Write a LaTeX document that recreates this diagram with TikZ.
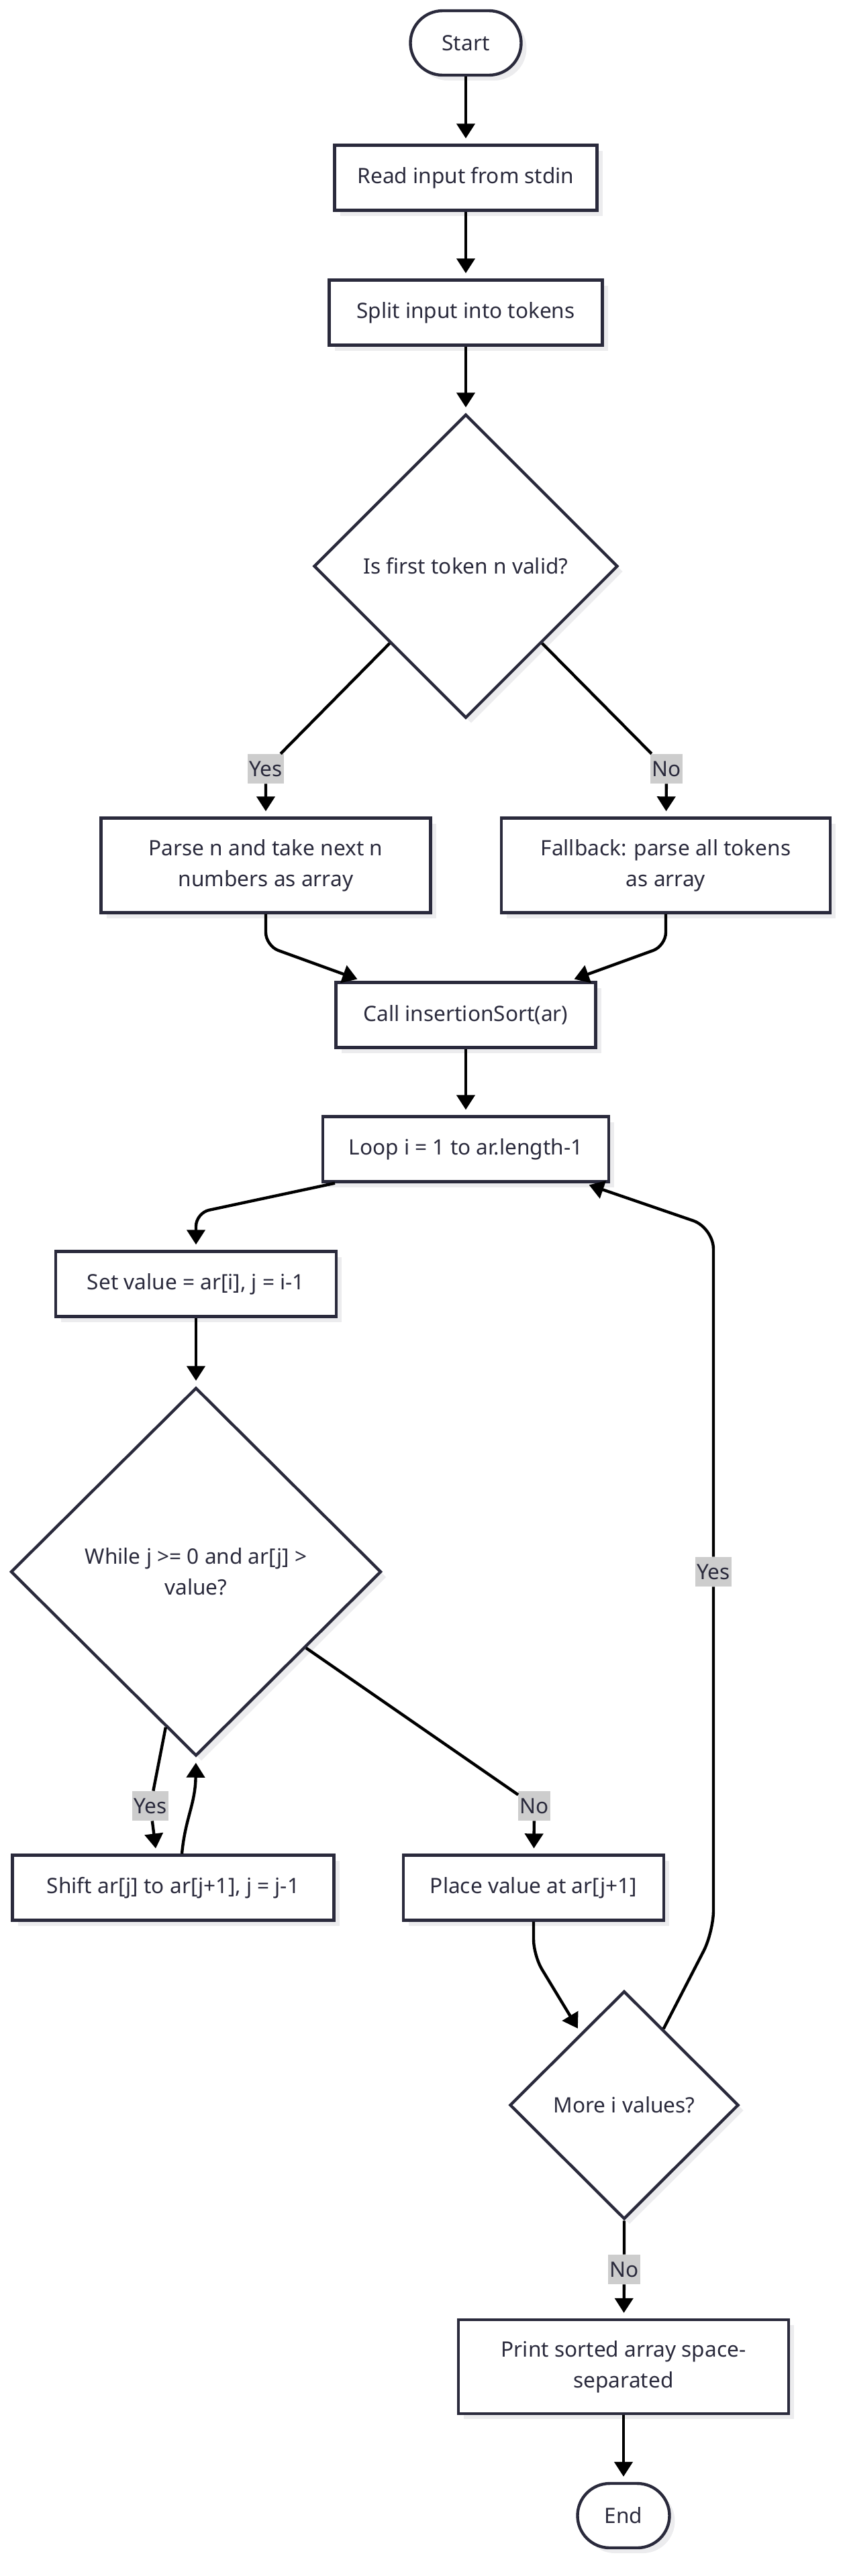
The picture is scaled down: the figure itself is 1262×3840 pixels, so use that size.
\documentclass[tikz,border=0pt]{standalone}
\usepackage{fontspec}
\setmainfont{Noto Sans}
\usepackage{tikz}
\usepackage{xcolor}
\usetikzlibrary{shapes.geometric,arrows.meta,shadows}

\definecolor{nodeline}{RGB}{42,42,60}
\definecolor{labelgray}{RGB}{205,205,205}
\definecolor{shadowgray}{RGB}{236,236,238}

\begin{document}
\begin{tikzpicture}[x=0.5pt, y=-0.5pt,
  base/.style={draw=nodeline, line width=2.2pt, fill=white, text=nodeline,
    font=\fontsize{15.8}{23}\selectfont, align=center, inner sep=0pt,
    drop shadow={shadow xshift=4pt, shadow yshift=-4pt, fill=shadowgray, opacity=1}},
  terminal/.style={base, rectangle, rounded corners=24pt, minimum height=48pt},
  process/.style={base, rectangle, minimum height=48.5pt},
  decision/.style={base, diamond, aspect=1},
  flow/.style={draw=black, line width=2.2pt, -{Triangle[length=11pt, width=13.5pt]}, shorten >=4pt},
  lbl/.style={fill=labelgray, text=nodeline, font=\fontsize{15.8}{18}\selectfont,
    inner xsep=1pt, inner ysep=0pt, minimum height=22pt}]
\useasboundingbox (0,0) rectangle (1262,3840);

% Entrada
\node[terminal, minimum width=82.5pt] (start) at (694,64) {Start};
\node[process, minimum width=195.5pt] (read) at (694,265) {Read input from stdin};
\node[process, minimum width=203.5pt] (split) at (694,466) {Split input into tokens};
\node[decision, minimum width=226.5pt, minimum height=226.5pt] (valid) at (694,844) {Is first token n valid?};
\node[process, minimum width=245.5pt, minimum height=70.5pt] (parse) at (396,1290) {Parse n and take next n\\numbers as array};
\node[process, minimum width=245pt, minimum height=70.5pt] (fallback) at (992,1290) {Fallback: parse all tokens\\as array};
\node[process, minimum width=193.5pt] (call) at (694,1513) {Call insertionSort(ar)};

% Ordenamiento
\node[process, minimum width=213pt] (loop) at (694,1713) {Loop i = 1 to ar.length-1};
\node[process, minimum width=209pt] (setval) at (292,1914) {Set value = ar[i], j = i-1};
\node[decision, minimum width=276pt, minimum height=274.5pt] (whilecond) at (292,2343) {While j >= 0 and ar[j] >\\value?};
\node[process, minimum width=239.5pt] (shift) at (258,2814) {Shift ar[j] to ar[j+1], j = j-1};
\node[process, minimum width=194pt] (place) at (795,2814) {Place value at ar[j+1]};
\node[decision, minimum width=170.5pt, minimum height=170pt] (more) at (930,3138) {More i values?};

% Salida
\node[process, minimum width=246pt, minimum height=70pt] (print) at (929,3528) {Print sorted array space-\\separated};
\node[terminal, minimum width=68.5pt] (end) at (929,3750) {End};

% Etiquetas
\node[lbl] (yesA) at (396,1146) {Yes};
\node[lbl] (noA) at (993,1146) {No};
\node[lbl] (yesLoop) at (1063,2343) {Yes};
\node[lbl] (yesB) at (224,2692) {Yes};
\node[lbl] (noB) at (796,2692) {No};
\node[lbl] (noC) at (930,3383) {No};

% Conexiones
\draw[flow] (start) -- (read);
\draw[flow] (read) -- (split);
\draw[flow] (split) -- (valid);
\draw[flow] (valid) -- (yesA) -- (parse);
\draw[flow] (valid) -- (noA) -- (fallback);
\draw[flow, rounded corners=10pt] (parse.south) -- (396,1410) -- ([xshift=-77pt]call.north);
\draw[flow, rounded corners=10pt] (fallback.south) -- (992,1410) -- ([xshift=77pt]call.north);
\draw[flow] (call) -- (loop);
\draw[flow, rounded corners=10pt] ([xshift=-97.5pt]loop.south) -- (292,1808) -- (setval.north);
\draw[flow] (setval) -- (whilecond);
\draw[flow] (whilecond) -- (yesB) -- ([xshift=-12.5pt]shift.north);
\draw[flow] ([xshift=6.5pt]shift.north) .. controls (276,2710) and (291,2690) .. (whilecond.south);
\draw[flow] (whilecond) -- (noB) -- (place);
\draw[flow, rounded corners=12pt] (place.south) -- (795,2915) -- (more);
\draw[flow, rounded corners=16pt] (more) -- (1063,2880) -- (yesLoop) -- (1063,1830) -- ([xshift=88pt]loop.south);
\draw[flow] (more) -- (noC) -- (print);
\draw[flow] (print) -- (end);
\end{tikzpicture}
\end{document}
